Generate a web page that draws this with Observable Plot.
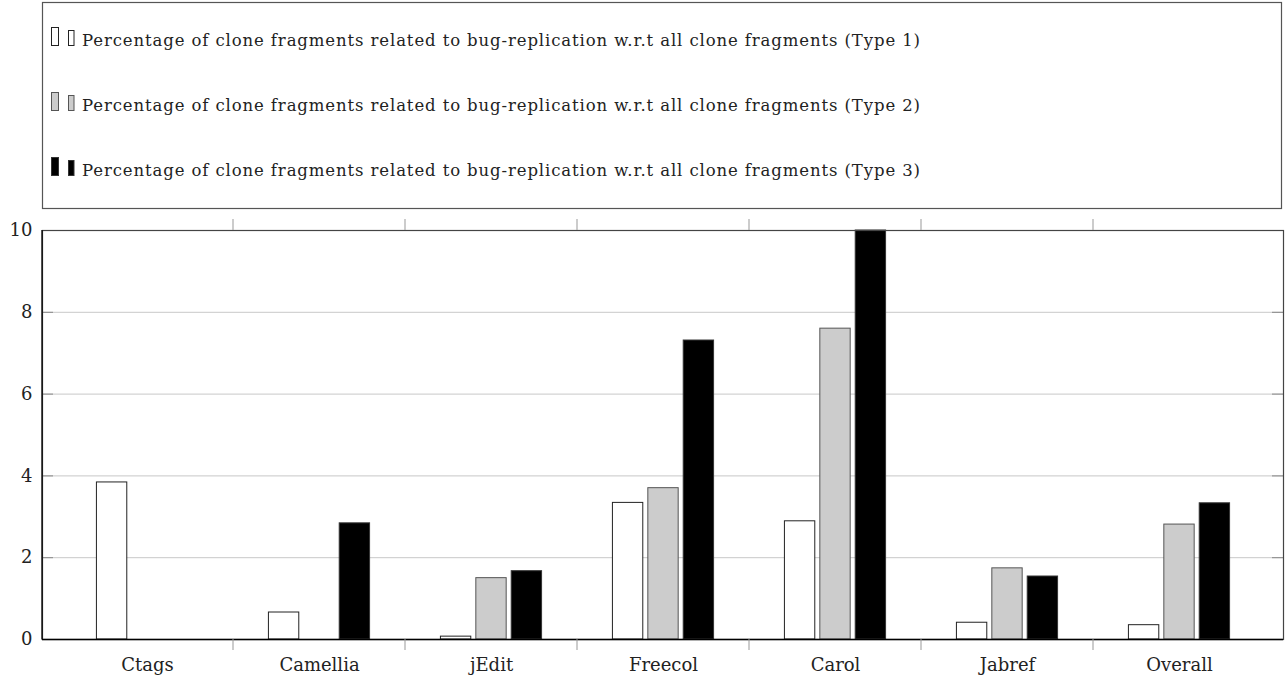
<!DOCTYPE html>
<html><head><meta charset="utf-8">
<script src="https://cdn.jsdelivr.net/npm/d3@7"></script>
<script src="https://cdn.jsdelivr.net/npm/@observablehq/plot@0.6"></script>
<style>body{margin:0;background:#fff;} #legend, #chart{display:block;line-height:0;} svg{display:block;}</style>
</head><body><div id="legend"></div><div id="chart"></div>
<script>
const categories = ["Ctags", "Camellia", "jEdit", "Freecol", "Carol", "Jabref", "Overall"];
const type1 = [3.84, 0.66, 0.07, 3.34, 2.89, 0.41, 0.35];
const type2 = [0, 0, 1.50, 3.70, 7.60, 1.74, 2.81];
const type3 = [0, 2.84, 1.67, 7.31, 10, 1.54, 3.33];
const seriesNames = [
  "Percentage of clone fragments related to bug-replication w.r.t all clone fragments (Type 1)",
  "Percentage of clone fragments related to bug-replication w.r.t all clone fragments (Type 2)",
  "Percentage of clone fragments related to bug-replication w.r.t all clone fragments (Type 3)"
];
const yTicks = [0, 2, 4, 6, 8, 10];
const gridTicks = [2, 4, 6, 8];

const fills = ["#ffffff", "#cccccc", "#000000"];
const strokes = ["#222222", "#555555", "#333333"];
const FONT = "DejaVu Serif";

// ---------- legend (above the svg) ----------
const LW = 1286, LH = 212;
const leg = d3.select("#legend").append("svg").attr("width", LW).attr("height", LH);
leg.append("rect").attr("x", 42.5).attr("y", 2.5).attr("width", 1239).attr("height", 206)
  .attr("fill", "white").attr("stroke", "#555").attr("stroke-width", 1.2);
seriesNames.forEach((name, i) => {
  const base = 45.5 + 65 * i;
  leg.append("rect").attr("x", 51.5).attr("y", base - 18).attr("width", 7).attr("height", 18)
    .attr("fill", fills[i]).attr("stroke", strokes[i]);
  leg.append("rect").attr("x", 68.5).attr("y", base - 15).attr("width", 5.5).attr("height", 15)
    .attr("fill", fills[i]).attr("stroke", strokes[i]);
  leg.append("text").attr("x", 82).attr("y", base).attr("font-family", FONT)
    .attr("font-size", 16.5).attr("textLength", 838).attr("lengthAdjust", "spacing")
    .attr("fill", "#222").text(name);
});

// ---------- chart ----------
const W = 1286, H = 469;
const mL = 42, mR = 3, mT = 18, mB = 42, xInset = 18;
const plotW = W - mL - mR;
const band = (plotW - 2 * xInset) / categories.length;
const barW = 30.5, step = 35.4;
const inset = (band - barW) / 2;

const series = [type1, type2, type3];
const rows = series.map(vals => categories.map((c, j) => ({cat: c, value: vals[j]})).filter(d => d.value > 0));

const decor = (index, scales, values, dims) => {
  const g = d3.create("svg:g");
  const top = dims.marginTop, bottom = dims.height - dims.marginBottom;
  const left = dims.marginLeft;
  categories.slice(1).forEach((c, k) => {
    const x = (scales && scales.x) ? scales.x(c) : (left + xInset + band * (k + 1));
    g.append("line").attr("x1", x).attr("x2", x).attr("y1", top - 11).attr("y2", top).attr("stroke", "#999");
    g.append("line").attr("x1", x).attr("x2", x).attr("y1", bottom).attr("y2", bottom + 11).attr("stroke", "#999");
  });
  g.append("line").attr("x1", left).attr("x2", left).attr("y1", top).attr("y2", bottom + 0.5)
    .attr("stroke", "#000").attr("stroke-width", 1.3);
  return g.node();
};

const chart = Plot.plot({
  width: W, height: H,
  marginLeft: mL, marginRight: mR, marginTop: mT, marginBottom: mB,
  style: {fontFamily: FONT, fontSize: "18px", color: "#222", background: "#fff", overflow: "visible"},
  x: {type: "band", domain: categories, padding: 0, inset: xInset, label: null, tickSize: 0, tickPadding: 19},
  y: {domain: [0, 10], ticks: yTicks, label: null, tickSize: 0, tickPadding: 10, tickFormat: d => String(d)},
  marks: [
    Plot.ruleY(gridTicks, {stroke: "#c8c8c8", strokeWidth: 1}),
    Plot.ruleY(yTicks, {stroke: "#888", insetRight: plotW - 11}),
    Plot.ruleY(yTicks, {stroke: "#888", insetLeft: plotW - 11}),
    ...rows.map((r, i) => Plot.barY(r, {
      x: "cat", y: "value", fill: fills[i], stroke: strokes[i], strokeWidth: 1,
      dx: (i - 1) * step, insetLeft: inset, insetRight: inset
    })),
    Plot.frame({stroke: "#444", strokeWidth: 1.2}),
    Plot.ruleY([0], {stroke: "#000", strokeWidth: 1.3}),
    decor
  ]
});
document.getElementById("chart").appendChild(chart);
</script>
</body></html>
